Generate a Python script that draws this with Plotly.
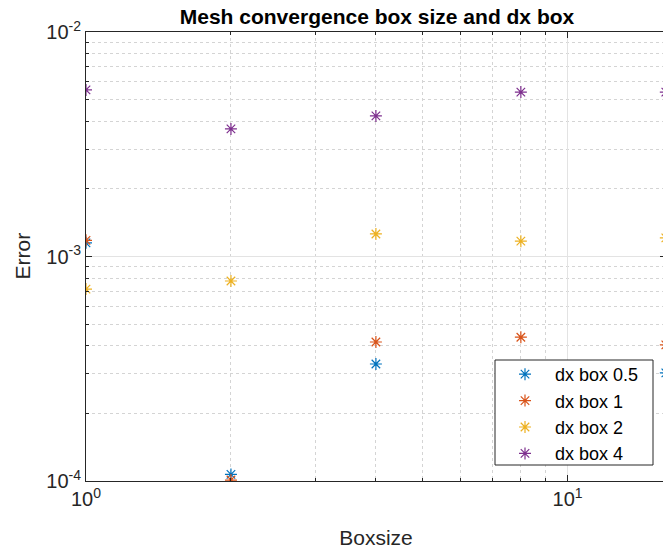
import plotly.graph_objects as go

boxsize = [1, 2, 4, 8, 16]
err_dx05 = [0.00115, 0.000107, 0.000332, 0.00029, 0.000303]
err_dx1 = [0.00118, 0.000101, 0.000416, 0.000437, 0.000404]
err_dx2 = [0.000716, 0.000778, 0.00126, 0.00117, 0.00121]
err_dx4 = [0.00552, 0.0037, 0.00423, 0.0054, 0.0054]

series_names = ["dx box 0.5", "dx box 1", "dx box 2", "dx box 4"]
series_vals = [err_dx05, err_dx1, err_dx2, err_dx4]
colors = ["#0072BD", "#D95319", "#EDB120", "#7E2F8E"]

x_major = [1, 10]
x_major_text = ["10<sup>0</sup>", "10<sup>1</sup>"]
x_minor = [2, 3, 4, 5, 6, 7, 8, 9, 20]
y_major = [1e-4, 1e-3, 1e-2]
y_major_text = ["10<sup>-4</sup>", "10<sup>-3</sup>", "10<sup>-2</sup>"]
y_minor = [k * 1e-4 for k in range(2, 10)] + [k * 1e-3 for k in range(2, 10)]

FONT = "Liberation Sans, Arial, Helvetica, sans-serif"
DARK = "#262626"

W, H = 666, 550
L, R, T, B = 86, 0, 32, 69
PW = W - L - R
PH = H - T - B

fig = go.Figure()
for name, vals, col in zip(series_names, series_vals, colors):
    fig.add_trace(go.Scatter(
        x=boxsize, y=vals, mode="markers", name=name, cliponaxis=True,
        marker=dict(symbol="asterisk-open", size=10, color=col,
                    line=dict(color=col, width=1.2)),
    ))

axis_common = dict(
    showline=True, linecolor=DARK, linewidth=1, mirror="ticks",
    ticks="inside", ticklen=6, tickcolor=DARK,
    showgrid=True, gridcolor="#e3e3e3", gridwidth=1,
    zeroline=False, automargin=False,
    tickfont=dict(family=FONT, size=20, color=DARK),
)

# legend box (drawn as a shape so its padding matches)
lx0, lx1, ly0, ly1 = 495, 653, 360, 465
fig.add_shape(type="rect", xref="paper", yref="paper", layer="above",
              x0=(lx0 - L) / PW, x1=(lx1 - L) / PW,
              y0=(H - B - ly1) / PH, y1=(H - B - ly0) / PH,
              fillcolor="white", line=dict(color=DARK, width=1))

fig.add_annotation(text="Error", textangle=-90, showarrow=False,
                   xref="paper", yref="paper", x=(22 - L) / PW, y=0.5,
                   xanchor="center", yanchor="middle",
                   font=dict(family=FONT, size=21, color=DARK))

fig.update_layout(
    width=W, height=H,
    margin=dict(l=L, r=R, t=T, b=B),
    paper_bgcolor="white", plot_bgcolor="white",
    font=dict(family=FONT, color=DARK),
    title=dict(text="<b>Mesh convergence box size and dx box</b>",
               x=377 / W, xanchor="center", xref="container",
               y=1 - 17 / H, yanchor="middle", yref="container",
               font=dict(family=FONT, size=21, color="black")),
    xaxis=dict(type="log", range=[0, 1.2045],
               tickmode="array", tickvals=x_major, ticktext=x_major_text,
               title=dict(text="Boxsize", font=dict(family=FONT, size=21, color=DARK), standoff=21),
               minor=dict(tickmode="array", tickvals=x_minor, ticks="inside", ticklen=3,
                          tickcolor=DARK, showgrid=True, gridcolor="#d4d4d4", griddash="dot"),
               **axis_common),
    yaxis=dict(type="log", range=[-4, -2],
               tickmode="array", tickvals=y_major, ticktext=y_major_text,
               minor=dict(tickmode="array", tickvals=y_minor, ticks="inside", ticklen=3,
                          tickcolor=DARK, showgrid=True, gridcolor="#d4d4d4", griddash="dot"),
               **axis_common),
    legend=dict(x=(lx0 - L) / PW, y=(H - B - 356) / PH, xanchor="left", yanchor="top",
                bgcolor="rgba(0,0,0,0)", borderwidth=0,
                font=dict(family=FONT, size=18, color="black"),
                itemwidth=50),
    showlegend=True,
)

fig.write_html(
    "out.html",
    config={"displayModeBar": False},
    post_script="document.body.style.margin='0';document.body.style.overflow='hidden';",
)
